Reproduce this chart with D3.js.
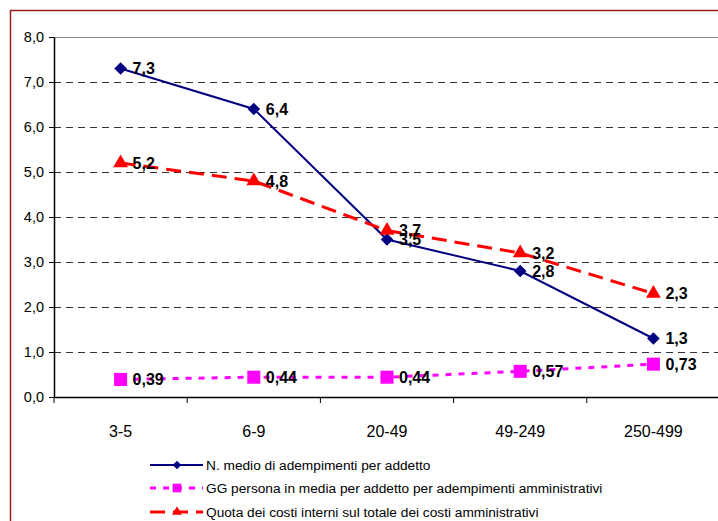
<!DOCTYPE html>
<html><head><meta charset="utf-8">
<script src="https://cdn.jsdelivr.net/npm/d3@7"></script>
<style>body{margin:0;background:#fff}svg{display:block}text{font-family:"Liberation Sans",Arial,sans-serif}</style>
</head><body>
<svg id="c" width="718" height="521"></svg>
<script>
const categories = ["3-5","6-9","20-49","49-249","250-499"];
const adempimenti = [7.3,6.4,3.5,2.8,1.3];
const ggPersona = [0.39,0.44,0.44,0.57,0.73];
const quotaCosti = [5.2,4.8,3.7,3.2,2.3];
const yTicks = [0,1,2,3,4,5,6,7,8];
const seriesNames = ["N. medio di adempimenti per addetto","GG persona in media per addetto per adempimenti amministrativi","Quota dei costi interni sul totale dei costi amministrativi"];

const FONT = "'Liberation Sans', Arial, sans-serif";
const svg = d3.select("#c");
const fmt = v => d3.format(v < 1 ? ".2f" : ".1f")(v).replace(".", ",");
const fmtAxis = v => d3.format(".1f")(v).replace(".", ",");

// outer border
svg.append("rect").attr("x",10.5).attr("y",10.5).attr("width",720).attr("height",520)
  .attr("fill","none").attr("stroke","#9b1c1c").attr("stroke-width",1.5);

const x0 = 54, x1 = 720, yTop = 37, yBot = 397;
const x = d3.scaleBand().domain(categories).range([x0, x1]);
const y = d3.scaleLinear().domain([0,8]).range([yBot, yTop]);

// gridlines
svg.append("g").selectAll("line").data(yTicks.filter(d=>d>0)).join("line")
  .attr("x1",x0).attr("x2",x1).attr("y1",d=>y(d)+0.5).attr("y2",d=>y(d)+0.5)
  .attr("stroke",d=>d===8?"#888":"#333").attr("stroke-width",1)
  .attr("stroke-dasharray",d=>d===8?null:"7,5");

// y axis
const yAxis = svg.append("g").attr("transform",`translate(${x0},0)`)
  .call(d3.axisLeft(y).tickValues(yTicks).tickFormat(fmtAxis).tickSize(5).tickSizeOuter(0));
yAxis.select(".domain").attr("stroke","#000").attr("stroke-width",1.5);
yAxis.selectAll(".tick line").attr("stroke","#000");
yAxis.selectAll("text").style("font-family",FONT).style("font-size","14.5px").attr("fill","#000").attr("x",-10);

// x axis
const xAxis = svg.append("g").attr("transform",`translate(0,${yBot})`)
  .call(d3.axisBottom(x).tickSize(0).tickSizeOuter(0));
xAxis.select(".domain").attr("stroke","#000").attr("stroke-width",1.5);
xAxis.selectAll("text").style("font-family",FONT).style("font-size","16px").attr("fill","#000").attr("y",29).attr("dy","0.71em");
// category separator ticks
svg.append("g").selectAll("line").data(categories).join("line")
  .attr("x1",d=>x(d)).attr("x2",d=>x(d)).attr("y1",yBot).attr("y2",yBot+6)
  .attr("stroke","#000").attr("stroke-width",1);

const cx = d => x(d) + x.bandwidth()/2;
const series = [
  {vals: adempimenti, color:"#000080", width:2, dash:null, sym:d3.symbolSquare, rot:45, size:80, name:seriesNames[0]},
  {vals: ggPersona, color:"#ff00ff", width:3, dash:"6,7", sym:d3.symbolSquare, rot:0, size:170, name:seriesNames[1]},
  {vals: quotaCosti, color:"#ff0000", width:3, dash:"15,8", sym:d3.symbolTriangle, rot:0, size:95, name:seriesNames[2]}
];

const line = d3.line().x((d,i)=>cx(categories[i])).y(d=>y(d));
series.forEach(s => {
  svg.append("path").datum(s.vals).attr("d",line).attr("fill","none")
    .attr("stroke",s.color).attr("stroke-width",s.width).attr("stroke-dasharray",s.dash);
});
series.forEach(s => {
  svg.append("g").selectAll("path").data(s.vals).join("path")
    .attr("transform",(d,i)=>`translate(${cx(categories[i])},${y(d)}) rotate(${s.rot})`)
    .attr("d",d3.symbol().type(s.sym).size(s.size)).attr("fill",s.color);
});
series.forEach(s => {
  svg.append("g").selectAll("text").data(s.vals).join("text")
    .attr("x",(d,i)=>cx(categories[i])+12).attr("y",d=>y(d)).attr("dy","0.36em")
    .style("font-family",FONT).style("font-size","16px").attr("font-weight","bold")
    .attr("fill","#000").text(d=>fmt(d));
});

// legend
const lg = svg.append("g");
const rows = [465, 488, 512];
series.forEach((s,i) => {
  const g = lg.append("g").attr("transform",`translate(0,${rows[i]})`);
  g.append("line").attr("x1",150).attr("x2",203).attr("y1",0).attr("y2",0)
    .attr("stroke",s.color).attr("stroke-width",s.width).attr("stroke-dasharray",s.dash);
  g.append("path").attr("transform",`translate(177,0) rotate(${s.rot})`).attr("d",d3.symbol().type(s.sym).size(s.size*0.45)).attr("fill",s.color);
  g.append("text").attr("x",206).attr("y",0).attr("dy","0.36em")
    .style("font-family",FONT).style("font-size","13.7px").attr("fill","#000").text(s.name);
});
</script>
</body></html>
